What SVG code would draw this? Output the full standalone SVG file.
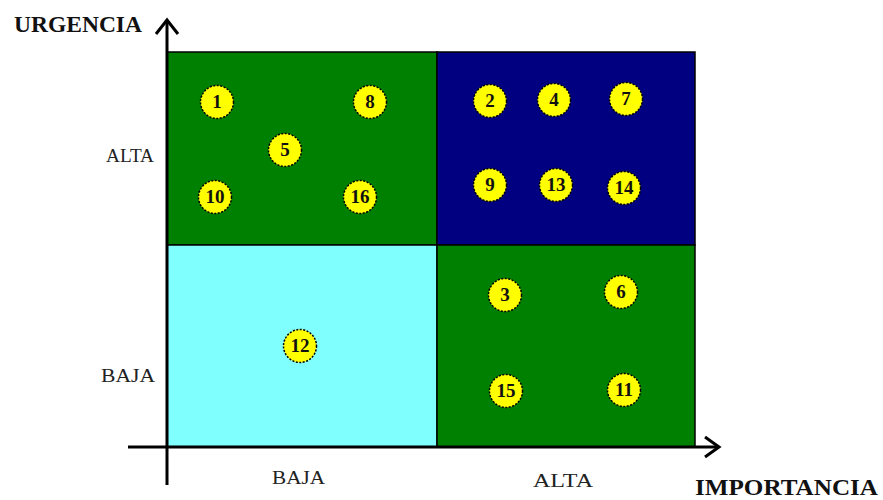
<svg xmlns="http://www.w3.org/2000/svg" width="883" height="500" viewBox="0 0 883 500">
<style>
.q{stroke:#000;stroke-width:1.5}
.ax{stroke:#000;stroke-width:3;fill:none}
.c circle{fill:#ffff00;stroke:#000;stroke-width:1.5;stroke-dasharray:2 1.5}
.c text{font-family:"Liberation Serif",serif;font-weight:bold;font-size:19px;text-anchor:middle;fill:#111}
.lb{font-family:"Liberation Serif","Liberation Mono",serif;font-size:19px;fill:#222}
.tt{font-family:"Liberation Serif",serif;font-weight:bold;font-size:23px;fill:#111}
</style>
<rect width="883" height="500" fill="#fff"/>
<g id="quadrants">
<rect class="q" x="167" y="52" width="270" height="193" fill="#008000"/>
<rect class="q" x="437" y="52" width="258" height="193" fill="#000080"/>
<rect class="q" x="167" y="245" width="270" height="202" fill="#80ffff"/>
<rect class="q" x="437" y="245" width="258" height="202" fill="#008000"/>
</g>
<g id="axes">
<line class="ax" x1="167" y1="20" x2="167" y2="485"/>
<polyline class="ax" points="156,34 167,20 178,34"/>
<line class="ax" x1="128" y1="447" x2="718" y2="447"/>
<polyline class="ax" points="705,437 719,447 705,457"/>
</g>
<g id="labels">
<text class="tt" x="14" y="32" textLength="128" lengthAdjust="spacingAndGlyphs">URGENCIA</text>
<text class="tt" x="695" y="495" textLength="183" lengthAdjust="spacingAndGlyphs">IMPORTANCIA</text>
<text class="lb" x="106" y="162" textLength="48" lengthAdjust="spacingAndGlyphs">ALTA</text>
<text class="lb" x="101" y="382" textLength="54" lengthAdjust="spacingAndGlyphs">BAJA</text>
<text class="lb" x="272" y="484" textLength="53" lengthAdjust="spacingAndGlyphs">BAJA</text>
<text class="lb" x="533" y="487" textLength="60" lengthAdjust="spacingAndGlyphs">ALTA</text>
</g>
<g id="n1" class="c"><circle cx="217" cy="102" r="16.5"/><text x="217" y="108">1</text></g>
<g id="n8" class="c"><circle cx="370" cy="102" r="16.5"/><text x="370" y="108">8</text></g>
<g id="n5" class="c"><circle cx="285" cy="150" r="16.5"/><text x="285" y="156">5</text></g>
<g id="n10" class="c"><circle cx="215" cy="197" r="16.5"/><text x="215" y="203">10</text></g>
<g id="n16" class="c"><circle cx="360" cy="197" r="16.5"/><text x="360" y="203">16</text></g>
<g id="n2" class="c"><circle cx="490" cy="101" r="16.5"/><text x="490" y="107">2</text></g>
<g id="n4" class="c"><circle cx="554" cy="100" r="16.5"/><text x="554" y="106">4</text></g>
<g id="n7" class="c"><circle cx="626" cy="99" r="16.5"/><text x="626" y="105">7</text></g>
<g id="n9" class="c"><circle cx="490" cy="185" r="16.5"/><text x="490" y="191">9</text></g>
<g id="n13" class="c"><circle cx="556" cy="185" r="16.5"/><text x="556" y="191">13</text></g>
<g id="n14" class="c"><circle cx="624" cy="188" r="16.5"/><text x="624" y="194">14</text></g>
<g id="n3" class="c"><circle cx="505" cy="295" r="16.5"/><text x="505" y="301">3</text></g>
<g id="n6" class="c"><circle cx="621" cy="292" r="16.5"/><text x="621" y="298">6</text></g>
<g id="n15" class="c"><circle cx="506" cy="391" r="16.5"/><text x="506" y="397">15</text></g>
<g id="n11" class="c"><circle cx="624" cy="390" r="16.5"/><text x="624" y="396">11</text></g>
<g id="n12" class="c"><circle cx="300" cy="346" r="16.5"/><text x="300" y="352">12</text></g>
</svg>
